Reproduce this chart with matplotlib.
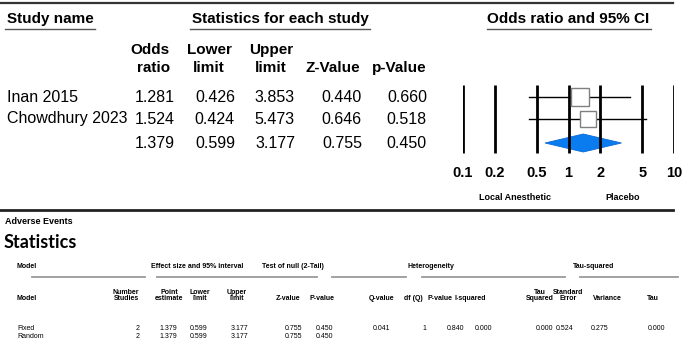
import matplotlib
matplotlib.use("Agg")
import matplotlib.pyplot as plt
from matplotlib.patches import Polygon
import numpy as np

plt.rcParams["font.family"] = ["Liberation Sans", "DejaVu Sans"]

# ---- forest plot data ----
studies = ["Inan 2015", "Chowdhury 2023"]
odds_ratio = [1.281, 1.524]
lower_limit = [0.426, 0.424]
upper_limit = [3.853, 5.473]
z_value = [0.440, 0.646]
p_value = [0.660, 0.518]

pooled_or = 1.379
pooled_lower = 0.599
pooled_upper = 3.177
pooled_z = 0.755
pooled_p = 0.450

or_ticks = [0.1, 0.2, 0.5, 1, 2, 5, 10]
or_tick_labels = ["0.1", "0.2", "0.5", "1", "2", "5", "10"]
favours = ["Local Anesthetic", "Placebo"]

# ---- statistics table data ----
models = ["Fixed", "Random"]
n_studies = [2, 2]
point_estimate = [1.379, 1.379]
model_lower = [0.599, 0.599]
model_upper = [3.177, 3.177]
model_z = [0.755, 0.755]
model_p = [0.450, 0.450]
# heterogeneity / tau-squared (fixed row only)
q_value = 0.041
df_q = 1
p_het = 0.840
i_squared = 0.000
tau_squared = 0.000
tau_se = 0.524
tau_variance = 0.275
tau = 0.000

fig = plt.figure(figsize=(6.85, 3.43), dpi=100)
ax = fig.add_axes([0, 0, 1, 1])
ax.set_xlim(0, 685)
ax.set_ylim(343, 0)
ax.axis("off")

BIG = 11.5
HDR = 11

# frame lines
ax.plot([0, 673], [3, 3], color="#333333", lw=1.6)
ax.plot([0, 673], [209.5, 209.5], color="#222222", lw=2.0)

# section headers with underlines
for txt, xc, x0, x1, ha in [("Study name", 7, 5, 95, "left"),
                            ("Statistics for each study", 280, 190, 370, "center"),
                            ("Odds ratio and 95% CI", 568, 487, 651, "center")]:
    ax.text(xc, 19, txt, ha=ha, va="center", fontsize=HDR, fontweight="bold")
    ax.plot([x0, x1], [29, 29], color="#555555", lw=1.0)

# column headers
col_hdr = [("Odds", "ratio", 170, "right"), ("Lower", "limit", 209, "center"),
           ("Upper", "limit", 271, "center"), (None, "Z-Value", 333, "center"),
           (None, "p-Value", 399, "center")]
for l1, l2, x, ha in col_hdr:
    if l1:
        ax.text(x, 50, l1, ha=ha, va="center", fontsize=HDR, fontweight="bold")
    ax.text(x, 68, l2, ha=ha, va="center", fontsize=HDR, fontweight="bold")

row_y = [97, 119]
pooled_y = 143
col_right = [175, 235, 295, 362, 427]

for i, name in enumerate(studies):
    y = row_y[i]
    ax.text(7, y, name, ha="left", va="center", fontsize=BIG)
    vals = [odds_ratio[i], lower_limit[i], upper_limit[i], z_value[i], p_value[i]]
    for v, x in zip(vals, col_right):
        ax.text(x, y, f"{v:.3f}", ha="right", va="center", fontsize=BIG)
for v, x in zip([pooled_or, pooled_lower, pooled_upper, pooled_z, pooled_p], col_right):
    ax.text(x, pooled_y, f"{v:.3f}", ha="right", va="center", fontsize=BIG)

# ---- forest plot axes (pixel y, log x) ----
fx = fig.add_axes([463 / 685, 1 - 205 / 343, (674 - 463) / 685, (205 - 80) / 343])
fx.set_xscale("log")
fx.set_xlim(0.1, 10)
fx.set_ylim(205, 80)
fx.axis("off")

fx.vlines(or_ticks, 85, 153, color="black", lw=2.0, zorder=3)

se = (np.log(upper_limit) - np.log(lower_limit)) / 3.92
box_side = 13.0 * se.min() / se
for i in range(len(studies)):
    y = row_y[i]
    fx.plot([lower_limit[i], upper_limit[i]], [y, y], color="black", lw=1.0, zorder=2)
    fx.plot(odds_ratio[i], y, marker="s", ms=box_side[i], mfc="white",
            mec="#808080", mew=1.0, zorder=4)

diamond = Polygon([(pooled_lower, pooled_y), (pooled_or, pooled_y - 9),
                   (pooled_upper, pooled_y), (pooled_or, pooled_y + 9)],
                  closed=True, facecolor="#0a7cf0", edgecolor="#0a6ad6", lw=0.6, zorder=2)
fx.add_patch(diamond)

for t, lab in zip(or_ticks, or_tick_labels):
    fx.text(t, 173, lab, ha="center", va="center", fontsize=10.5, fontweight="bold")
fx.text(10 ** -0.51, 198, favours[0], ha="center", va="center", fontsize=6.5, fontweight="bold")
fx.text(10 ** 0.51, 198, favours[1], ha="center", va="center", fontsize=6.5, fontweight="bold")

# ---- lower section ----
ax.text(5, 221, "Adverse Events", ha="left", va="center", fontsize=6.5, fontweight="bold")
ax.text(4, 242, "Statistics", ha="left", va="center", fontsize=13, fontweight="bold",
        family=["Lato", "DejaVu Sans"])

SM = 5.0
grp = [("Model", 17, "left"), ("Effect size and 95% interval", 197, "center"),
       ("Test of null (2-Tail)", 293, "center"), ("Heterogeneity", 431, "center"),
       ("Tau-squared", 594, "center")]
for txt, x, ha in grp:
    ax.text(x, 267, txt, ha=ha, va="center", fontsize=SM, fontweight="bold")
for x0, x1 in [(32, 145), (157, 317), (332, 406), (422, 565), (580, 678)]:
    ax.plot([x0, x1], [277, 277], color="#9a9a9a", lw=1.3)

sub_hdr = [(None, "Model", 17, "left"), ("Number", "Studies", 126, "center"),
           ("Point", "estimate", 169, "center"), ("Lower", "limit", 200, "center"),
           ("Upper", "limit", 237, "center"), (None, "Z-value", 288, "center"),
           (None, "P-value", 322, "center"), (None, "Q-value", 382, "center"),
           (None, "df (Q)", 413, "center"), (None, "P-value", 440, "center"),
           (None, "I-squared", 470, "center"), ("Tau", "Squared", 540, "center"),
           ("Standard", "Error", 568, "center"), (None, "Variance", 607, "center"),
           (None, "Tau", 653, "center")]
for l1, l2, x, ha in sub_hdr:
    if l1:
        ax.text(x, 292, l1, ha=ha, va="center", fontsize=SM, fontweight="bold")
    ax.text(x, 299, l2, ha=ha, va="center", fontsize=SM, fontweight="bold")

tab_right = [140, 177, 208, 248, 302, 333]
tab_y = [329, 337]
for i, m in enumerate(models):
    y = tab_y[i]
    ax.text(17, y, m, ha="left", va="center", fontsize=SM)
    vals = [f"{n_studies[i]}", f"{point_estimate[i]:.3f}", f"{model_lower[i]:.3f}",
            f"{model_upper[i]:.3f}", f"{model_z[i]:.3f}", f"{model_p[i]:.3f}"]
    for v, x in zip(vals, tab_right):
        ax.text(x, y, v, ha="right", va="center", fontsize=SM)

het_vals = [f"{q_value:.3f}", f"{df_q}", f"{p_het:.3f}", f"{i_squared:.3f}",
            f"{tau_squared:.3f}", f"{tau_se:.3f}", f"{tau_variance:.3f}", f"{tau:.3f}"]
het_right = [390, 426, 464, 492, 553, 573, 608, 665]
for v, x in zip(het_vals, het_right):
    ax.text(x, tab_y[0], v, ha="right", va="center", fontsize=SM)

fig.savefig("out.png", dpi=100)
